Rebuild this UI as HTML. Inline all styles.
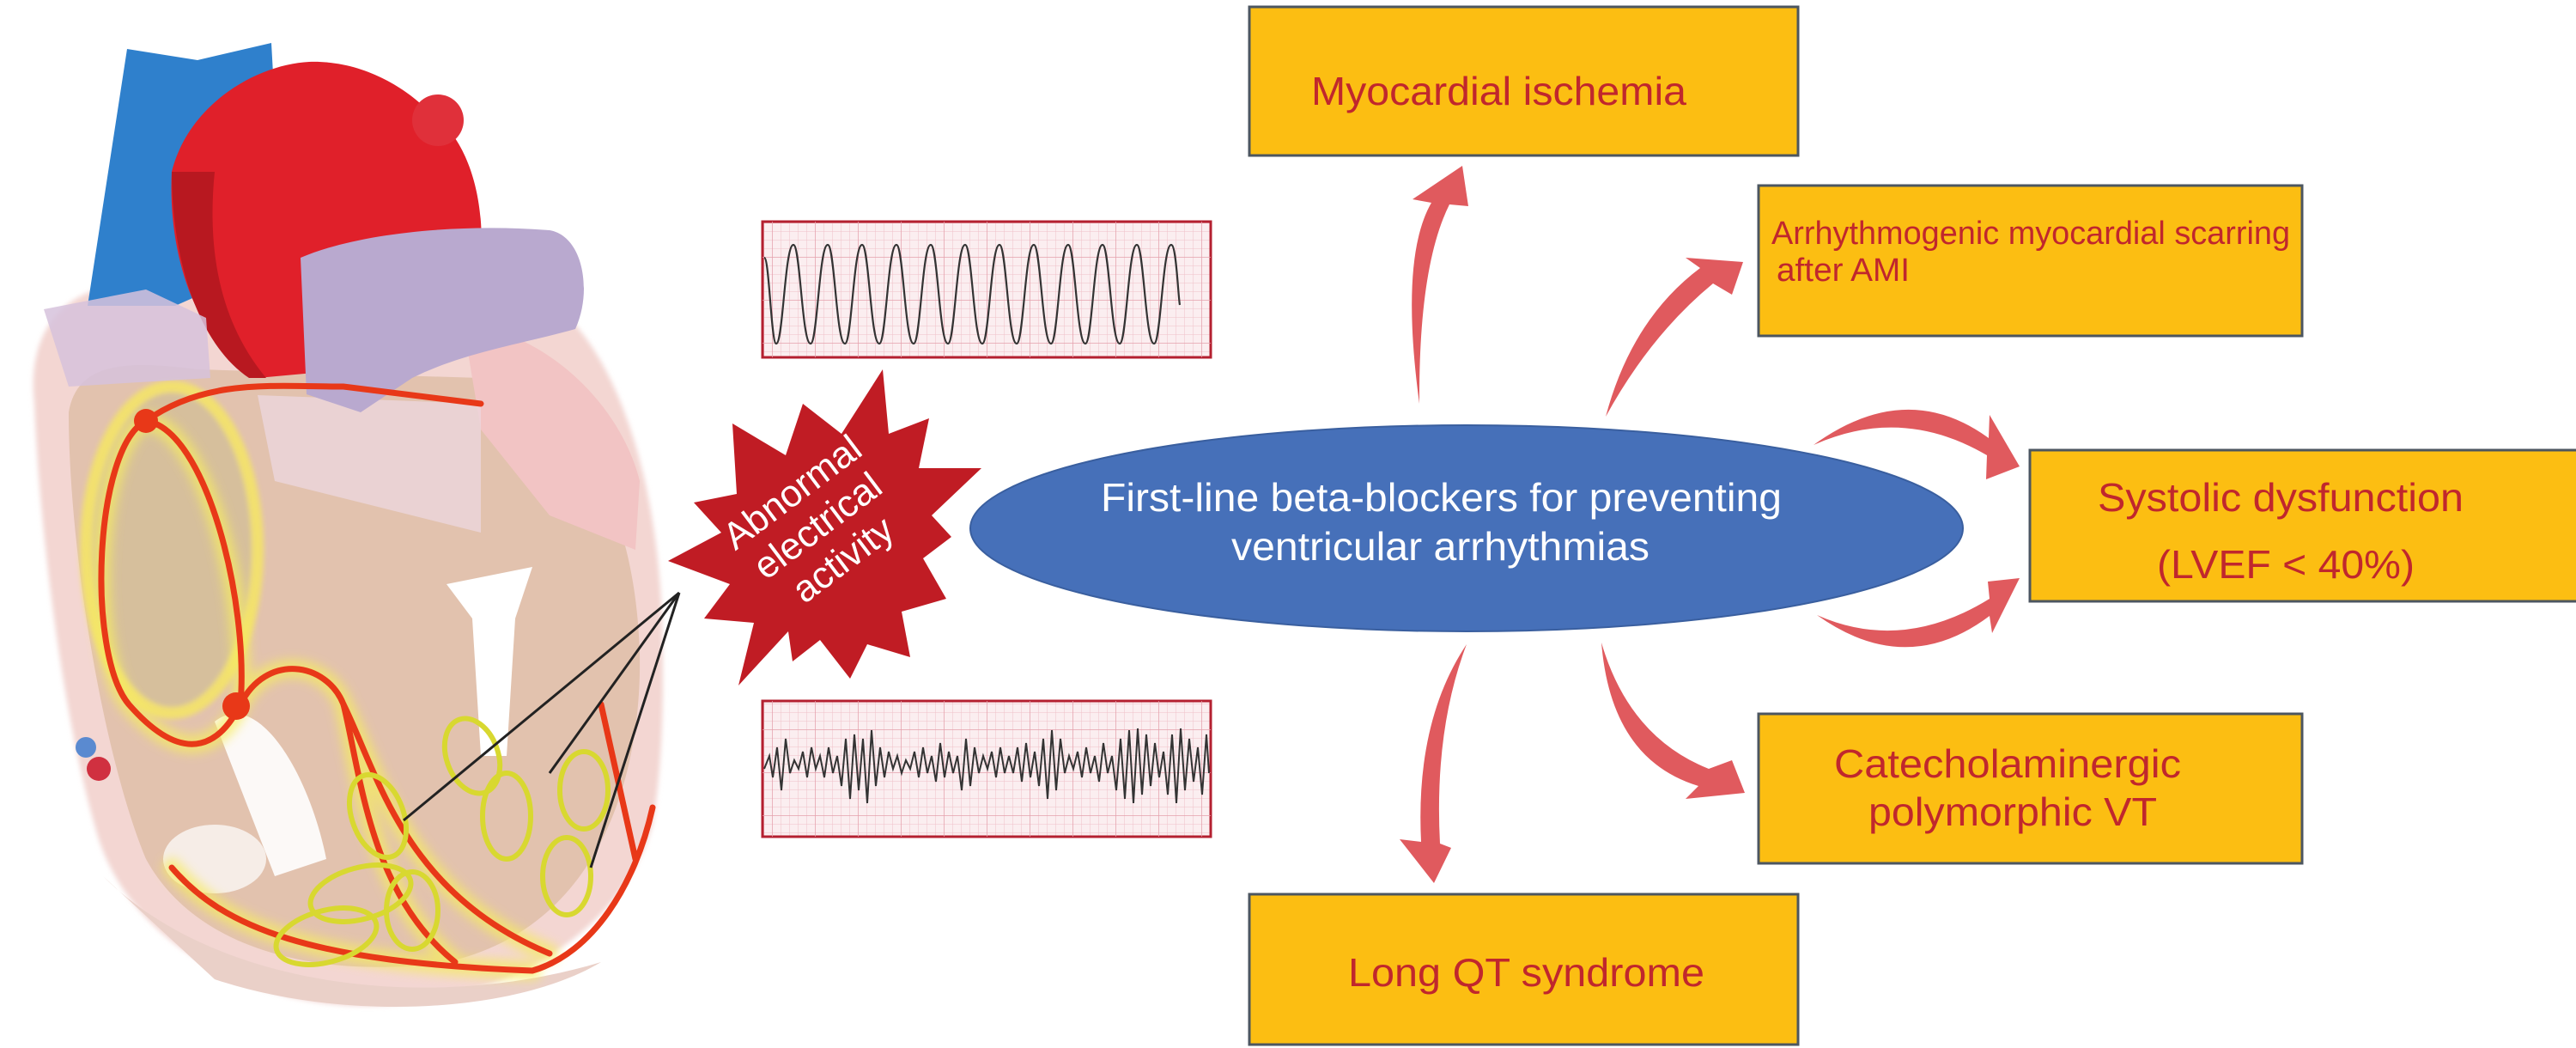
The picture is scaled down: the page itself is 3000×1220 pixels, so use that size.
<!DOCTYPE html>
<html><head><meta charset="utf-8"><style>
html,body{margin:0;padding:0;background:#fff;}
svg{display:block;}
text{font-family:"Liberation Sans",Arial,sans-serif;}
</style></head><body>
<svg width="3000" height="1220" viewBox="0 0 3000 1220" xmlns="http://www.w3.org/2000/svg">
<defs>
<pattern id="grid" width="10" height="10" patternUnits="userSpaceOnUse">
<rect width="10" height="10" fill="#fbeef0"/>
<path d="M10 0V10M0 10H10" stroke="#efc0c8" stroke-width="1"/>
</pattern>
<pattern id="grid2" width="50" height="50" patternUnits="userSpaceOnUse">
<path d="M50 0V50M0 50H50" stroke="#e4a0ac" stroke-width="1.5" fill="none"/>
</pattern>
<filter id="blur"><feGaussianBlur stdDeviation="6"/></filter>
<filter id="blur2"><feGaussianBlur stdDeviation="3"/></filter>
</defs>

<!-- HEART -->
<g>
<path d="M40 470 C30 380 80 330 160 330 L600 330 C700 360 760 520 770 700 C775 820 770 900 760 960 C720 1100 560 1180 400 1170 C260 1160 140 1080 110 960 C70 820 45 600 40 470 Z" fill="#f3d6d2" filter="url(#blur2)"/>
<path d="M80 480 C90 420 150 420 230 430 L560 440 C680 470 740 600 745 760 C748 900 700 1080 520 1120 C380 1140 230 1110 170 1000 C120 880 80 640 80 480Z" fill="#e2c2ae"/>
<path d="M540 380 C620 380 720 460 745 560 L740 640 L640 600 L560 500 Z" fill="#f2c4c4"/>
<path d="M300 460 L560 470 L560 620 L320 560 Z" fill="#ecd6dc" opacity="0.8"/>
<ellipse cx="200" cy="640" rx="100" ry="190" fill="#d6bf9c" stroke="#f2e070" stroke-width="14" filter="url(#blur2)"/>
<path d="M148 57 L230 70 L316 50 L330 300 L204 356 L102 356 Z" fill="#2f80cc"/>
<path d="M200 200 C220 120 300 75 360 72 C420 70 470 100 500 130 C545 160 565 230 560 300 L520 420 L300 440 C230 400 195 300 200 200Z" fill="#e0202a"/>
<circle cx="510" cy="140" r="30" fill="#e0303a"/>
<path d="M200 200 C200 300 230 400 290 440 L310 440 C260 380 240 300 250 200Z" fill="#b81820"/>
<path d="M350 300 C420 270 540 260 640 268 C680 275 690 340 670 383 C610 400 540 410 480 440 L420 480 L357 459 Z" fill="#b9a9cf"/>
<path d="M51 360 L170 337 L240 370 L245 440 L80 450 Z" fill="#d6c2dc" opacity="0.85"/>
<path d="M520 680 L620 660 L600 720 L590 880 L560 880 L550 720 Z" fill="#fff"/>
<path d="M250 840 C300 800 360 900 380 1000 L320 1020 Z" fill="#fff" opacity="0.9"/>
<ellipse cx="250" cy="1000" rx="60" ry="40" fill="#fff" opacity="0.7"/>
<path d="M120 1020 C250 1150 500 1180 700 1120 C600 1180 400 1190 250 1140 Z" fill="#ead0c8"/>
<g fill="none" stroke-linecap="round">
<g stroke="#f6ec60" stroke-width="22" opacity="0.7" filter="url(#blur)">
<path d="M170 490 C110 520 100 760 150 820 C220 900 260 860 280 820"/>
<path d="M170 490 C240 500 290 700 280 820"/>
<path d="M280 820 C310 760 380 770 400 820 C420 900 430 1040 530 1120"/>
<path d="M400 820 C440 900 470 1040 640 1110"/>
<path d="M200 1010 C260 1080 360 1120 620 1130"/>
</g>
<g stroke="#e83818" stroke-width="7">
<path d="M170 490 C110 520 100 760 150 820 C220 900 260 860 280 820"/>
<path d="M170 490 C240 500 290 700 280 820"/>
<path d="M170 490 C240 440 320 450 400 450 L560 470"/>
<path d="M280 820 C310 760 380 770 400 820 C420 900 430 1040 530 1120"/>
<path d="M400 820 C440 900 470 1040 640 1110"/>
<path d="M200 1010 C260 1080 360 1120 620 1130 C690 1110 740 1030 760 940"/>
<path d="M740 1000 L700 820"/>
</g>
</g>
<circle cx="170" cy="490" r="14" fill="#e83818"/>
<circle cx="275" cy="822" r="16" fill="#e83818"/>
<g fill="none" stroke="#d8d830" stroke-width="6">
<ellipse cx="440" cy="950" rx="30" ry="50" transform="rotate(-20 440 950)"/>
<ellipse cx="550" cy="880" rx="30" ry="45" transform="rotate(-20 550 880)"/>
<ellipse cx="590" cy="950" rx="28" ry="50"/>
<ellipse cx="680" cy="920" rx="28" ry="45"/>
<ellipse cx="660" cy="1020" rx="28" ry="45"/>
<ellipse cx="420" cy="1040" rx="60" ry="30" transform="rotate(-15 420 1040)"/>
<ellipse cx="480" cy="1060" rx="30" ry="45"/>
<ellipse cx="380" cy="1090" rx="60" ry="30" transform="rotate(-15 380 1090)"/>
</g>
<circle cx="100" cy="870" r="12" fill="#5a8ad0"/>
<circle cx="115" cy="895" r="14" fill="#d03040"/>
<g stroke="#222" stroke-width="3" fill="none">
<path d="M791 690 L470 955"/>
<path d="M791 690 L640 900"/>
<path d="M791 690 L688 1010"/>
</g>
</g>

<!-- ECG top -->
<rect x="888" y="258" width="522" height="158" fill="url(#grid)" stroke="#b42030" stroke-width="3"/>
<rect x="888" y="258" width="522" height="158" fill="url(#grid2)"/>
<path d="M890 300 c6 0 8 100 14 100 c8 0 10 -115 20 -115 c8 0 10 115 20 115 c8 0 10 -115 20 -115 c8 0 10 115 20 115 c8 0 10 -115 20 -115 c8 0 10 115 20 115 c8 0 10 -115 20 -115 c8 0 10 115 20 115 c8 0 10 -115 20 -115 c8 0 10 115 20 115 c8 0 10 -115 20 -115 c8 0 10 115 20 115 c8 0 10 -115 20 -115 c8 0 10 115 20 115 c8 0 10 -115 20 -115 c8 0 10 115 20 115 c8 0 10 -115 20 -115 c8 0 10 115 20 115 c8 0 10 -115 20 -115 c8 0 10 115 20 115 c8 0 10 -115 20 -115 c8 0 10 115 20 115 c8 0 10 -115 20 -115 c6 0 8 60 10 70" fill="none" stroke="#333" stroke-width="2.2"/>
<!-- ECG bottom -->
<rect x="888" y="816" width="522" height="158" fill="url(#grid)" stroke="#b42030" stroke-width="3"/>
<rect x="888" y="816" width="522" height="158" fill="url(#grid2)"/>
<polyline fill="none" stroke="#333" stroke-width="2" points="890,895 896,880 900,905 905,870 910,920 915,860 920,900 925,885 930,895 935,875 940,905 945,870 950,895 955,880 960,905 965,870 970,900 975,880 980,915 985,860 990,930 995,855 1000,920 1005,860 1010,935 1015,850 1020,915 1025,870 1030,905 1035,875 1040,895 1045,880 1050,900 1055,885 1060,895 1065,875 1070,905 1075,870 1080,900 1085,880 1090,910 1095,865 1100,905 1105,875 1110,900 1115,880 1120,920 1125,860 1130,915 1135,870 1140,900 1145,880 1150,895 1155,875 1160,905 1165,870 1170,900 1175,880 1180,900 1185,870 1190,910 1195,865 1200,905 1205,875 1210,915 1215,860 1220,930 1225,850 1230,920 1235,860 1240,900 1245,880 1250,895 1255,875 1260,905 1265,870 1270,900 1275,880 1280,910 1285,865 1290,900 1295,880 1300,920 1305,860 1310,930 1315,850 1320,935 1325,848 1330,925 1335,855 1340,915 1345,865 1350,905 1355,875 1360,925 1365,855 1370,935 1375,848 1380,920 1385,860 1390,910 1395,870 1400,925 1405,855 1408,900"/>

<!-- Starburst -->
<polygon points="1028,430 1035,505 1082,487 1070,545 1143,545 1085,600 1108,625 1075,650 1102,697 1050,712 1060,765 1010,750 990,790 955,745 923,770 918,735 860,798 878,725 820,720 850,680 778,653 840,620 808,585 858,575 853,493 915,530 935,470 980,505" fill="#c01c24"/>
<g transform="translate(952 612) rotate(-37)" fill="#fff" font-size="44" text-anchor="middle">
<text x="0" y="-34">Abnormal</text>
<text x="0" y="15">electrical</text>
<text x="0" y="64">activity</text>
</g>

<!-- Ellipse -->
<ellipse cx="1708" cy="615" rx="578" ry="120" fill="#4670b9" stroke="#3a5f9f" stroke-width="2"/>
<text x="1282" y="595" fill="#fff" font-size="46" textLength="793" lengthAdjust="spacingAndGlyphs">First-line beta-blockers for preventing</text>
<text x="1434" y="652" fill="#fff" font-size="46" textLength="487" lengthAdjust="spacingAndGlyphs">ventricular arrhythmias</text>

<!-- Boxes -->
<g fill="#fcbe12" stroke="#4c5660" stroke-width="3">
<rect x="1455" y="8" width="639" height="173"/>
<rect x="2048" y="216" width="633" height="175"/>
<rect x="2364" y="524" width="640" height="176"/>
<rect x="2048" y="831" width="633" height="174"/>
<rect x="1455" y="1041" width="639" height="175"/>
</g>
<g fill="#c0272d" font-size="46">
<text x="1527" y="122" textLength="437" lengthAdjust="spacingAndGlyphs">Myocardial ischemia</text>
<text x="2063" y="284" font-size="38" textLength="604" lengthAdjust="spacingAndGlyphs">Arrhythmogenic myocardial scarring</text>
<text x="2069" y="327" font-size="38" textLength="155" lengthAdjust="spacingAndGlyphs">after AMI</text>
<text x="2443" y="595" textLength="426" lengthAdjust="spacingAndGlyphs">Systolic dysfunction</text>
<text x="2512" y="673" textLength="300" lengthAdjust="spacingAndGlyphs">(LVEF &lt; 40%)</text>
<text x="2136" y="905" textLength="404" lengthAdjust="spacingAndGlyphs">Catecholaminergic</text>
<text x="2176" y="961" textLength="336" lengthAdjust="spacingAndGlyphs">polymorphic VT</text>
<text x="1570" y="1148" textLength="415" lengthAdjust="spacingAndGlyphs">Long QT syndrome</text>
</g>

<!-- Arrows (tapered) -->
<g fill="#e05a5e">
<path d="M1653 470 Q1630 300 1667 236 L1645 232 L1703 193 L1710 240 L1688 238 Q1652 310 1653 470 Z"/>
<path d="M1870 485 Q1900 372 1980 312 L1963 300 L2030 305 L2017 343 L1995 330 Q1922 390 1870 485 Z"/>
<path d="M2112 518 Q2220 440 2316 510 L2317 483 L2352 543 L2313 558 L2314 530 Q2215 472 2112 518 Z"/>
<path d="M2116 716 Q2220 790 2317 717 L2320 737 L2352 673 L2315 677 L2317 697 Q2215 760 2116 716 Z"/>
<path d="M1865 748 Q1897 858 1990 895 L2017 885 L2032 923 L1963 930 L1978 915 Q1876 884 1865 748 Z"/>
<path d="M1708 750 Q1648 840 1655 980 L1630 977 L1670 1028 L1690 987 L1677 982 Q1670 850 1708 750 Z"/>
</g>
</svg>
</body></html>
